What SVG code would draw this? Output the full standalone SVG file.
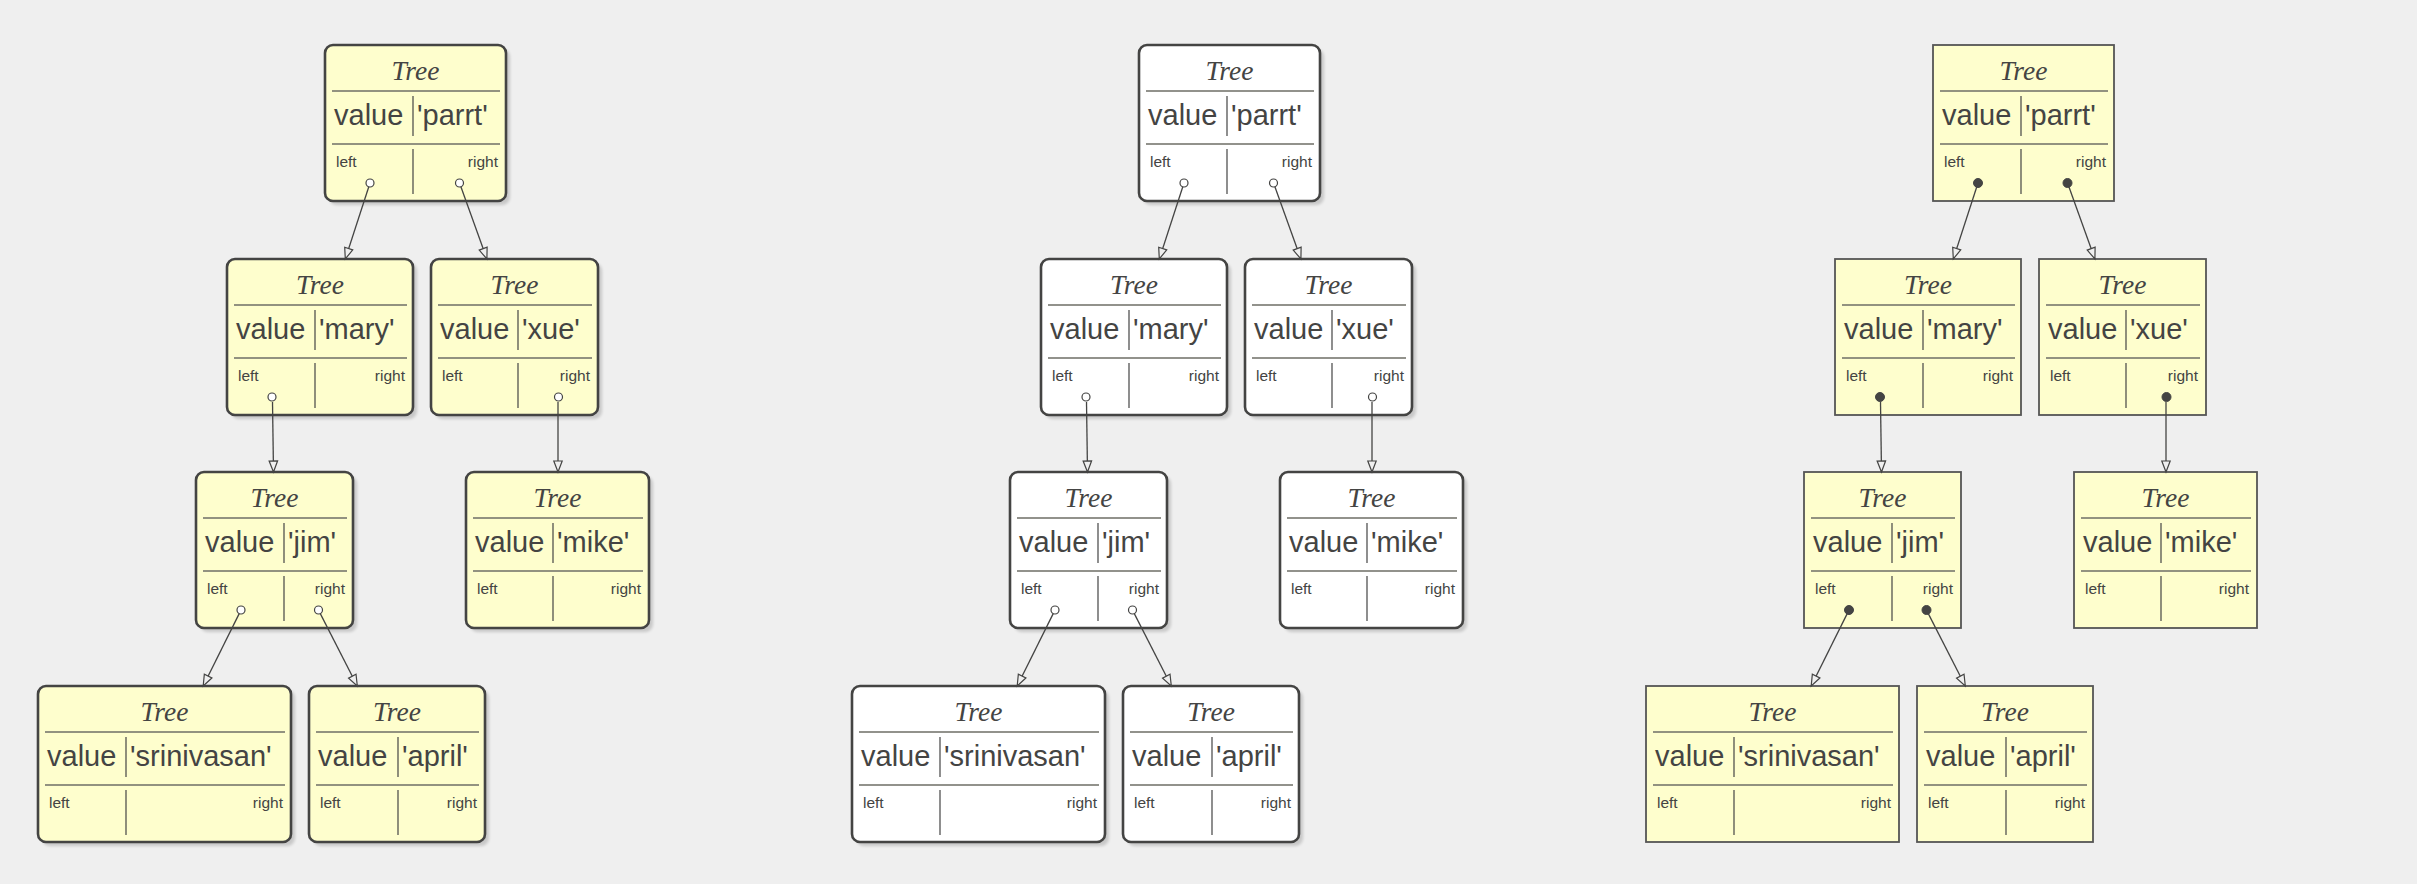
<svg xmlns="http://www.w3.org/2000/svg" width="2417" height="884" viewBox="0 0 2417 884">
<defs>
<style>
.bg{fill:#efefef}
.box{stroke:#444443;stroke-width:2.6}
.y .box{fill:#fefecd}
.w .box{fill:#ffffff}
.flat .box{stroke:#555555;stroke-width:1.8}
.shadow{fill:#000;opacity:0.16;filter:url(#blur)}
.hl{stroke:#6e6e66;stroke-width:1.6}
.vl{stroke:#444443;stroke-width:1.2}
text{fill:#444443}
.title{font-family:"Liberation Serif",serif;font-style:italic;font-size:27.5px;text-anchor:middle}
.val{font-family:"Liberation Sans",Arial,sans-serif;font-size:29px}
.lbl{font-family:"Liberation Sans",Arial,sans-serif;font-size:15.5px}
.end{text-anchor:end}
.port{fill:#ffffff;stroke:#444443;stroke-width:1.2}
.dot{fill:#444443;stroke:#444443;stroke-width:1}
.edge{stroke:#444443;stroke-width:1.3;fill:none;marker-end:url(#arrow)}
</style>
<filter id="blur" x="-10%" y="-10%" width="120%" height="120%"><feGaussianBlur stdDeviation="1.6"/></filter>
<marker id="arrow" markerUnits="userSpaceOnUse" markerWidth="14" markerHeight="12" viewBox="-1 -6 14 12" refX="11" refY="0" orient="auto" overflow="visible">
<path d="M0,-4.2 L11,0 L0,4.2 Z" fill="#efefef" stroke="#444443" stroke-width="1.2"/>
</marker>
</defs>
<rect class="bg" x="0" y="0" width="2417" height="884"/>

<!-- ===== Tree 1 (yellow, rounded) ===== -->
<g id="t1-parrt" class="node y" transform="translate(325,45)">
<rect class="shadow" x="4" y="4" width="181" height="156" rx="8"/>
<rect class="box" x="0" y="0" width="181" height="156" rx="8"/>
<text class="title" x="90.5" y="35">Tree</text>
<line class="hl" x1="7" y1="46" x2="175" y2="46"/>
<text class="val" x="9" y="80">value</text>
<line class="vl" x1="88" y1="51" x2="88" y2="91"/>
<text class="val" x="92" y="80">'parrt'</text>
<line class="hl" x1="7" y1="99" x2="175" y2="99"/>
<line class="vl" x1="88" y1="104" x2="88" y2="149"/>
<text class="lbl" x="11" y="122">left</text>
<text class="lbl end" x="173" y="122">right</text>
<circle class="port" cx="45" cy="138" r="4"/>
<circle class="port" cx="134.5" cy="138" r="4"/>
</g>
<g id="t1-mary" class="node y" transform="translate(227,259)">
<rect class="shadow" x="4" y="4" width="186" height="156" rx="8"/>
<rect class="box" x="0" y="0" width="186" height="156" rx="8"/>
<text class="title" x="93" y="35">Tree</text>
<line class="hl" x1="7" y1="46" x2="180" y2="46"/>
<text class="val" x="9" y="80">value</text>
<line class="vl" x1="88" y1="51" x2="88" y2="91"/>
<text class="val" x="92" y="80">'mary'</text>
<line class="hl" x1="7" y1="99" x2="180" y2="99"/>
<line class="vl" x1="88" y1="104" x2="88" y2="149"/>
<text class="lbl" x="11" y="122">left</text>
<text class="lbl end" x="178" y="122">right</text>
<circle class="port" cx="45" cy="138" r="4"/>
</g>
<g id="t1-xue" class="node y" transform="translate(431,259)">
<rect class="shadow" x="4" y="4" width="167" height="156" rx="8"/>
<rect class="box" x="0" y="0" width="167" height="156" rx="8"/>
<text class="title" x="83.5" y="35">Tree</text>
<line class="hl" x1="7" y1="46" x2="161" y2="46"/>
<text class="val" x="9" y="80">value</text>
<line class="vl" x1="87" y1="51" x2="87" y2="91"/>
<text class="val" x="91" y="80">'xue'</text>
<line class="hl" x1="7" y1="99" x2="161" y2="99"/>
<line class="vl" x1="87" y1="104" x2="87" y2="149"/>
<text class="lbl" x="11" y="122">left</text>
<text class="lbl end" x="159" y="122">right</text>
<circle class="port" cx="127.5" cy="138" r="4"/>
</g>
<g id="t1-jim" class="node y" transform="translate(196,472)">
<rect class="shadow" x="4" y="4" width="157" height="156" rx="8"/>
<rect class="box" x="0" y="0" width="157" height="156" rx="8"/>
<text class="title" x="78.5" y="35">Tree</text>
<line class="hl" x1="7" y1="46" x2="151" y2="46"/>
<text class="val" x="9" y="80">value</text>
<line class="vl" x1="88" y1="51" x2="88" y2="91"/>
<text class="val" x="92" y="80">'jim'</text>
<line class="hl" x1="7" y1="99" x2="151" y2="99"/>
<line class="vl" x1="88" y1="104" x2="88" y2="149"/>
<text class="lbl" x="11" y="122">left</text>
<text class="lbl end" x="149" y="122">right</text>
<circle class="port" cx="45" cy="138" r="4"/>
<circle class="port" cx="122.5" cy="138" r="4"/>
</g>
<g id="t1-mike" class="node y" transform="translate(466,472)">
<rect class="shadow" x="4" y="4" width="183" height="156" rx="8"/>
<rect class="box" x="0" y="0" width="183" height="156" rx="8"/>
<text class="title" x="91.5" y="35">Tree</text>
<line class="hl" x1="7" y1="46" x2="177" y2="46"/>
<text class="val" x="9" y="80">value</text>
<line class="vl" x1="87" y1="51" x2="87" y2="91"/>
<text class="val" x="91" y="80">'mike'</text>
<line class="hl" x1="7" y1="99" x2="177" y2="99"/>
<line class="vl" x1="87" y1="104" x2="87" y2="149"/>
<text class="lbl" x="11" y="122">left</text>
<text class="lbl end" x="175" y="122">right</text>
</g>
<g id="t1-srinivasan" class="node y" transform="translate(38,686)">
<rect class="shadow" x="4" y="4" width="253" height="156" rx="8"/>
<rect class="box" x="0" y="0" width="253" height="156" rx="8"/>
<text class="title" x="126.5" y="35">Tree</text>
<line class="hl" x1="7" y1="46" x2="247" y2="46"/>
<text class="val" x="9" y="80">value</text>
<line class="vl" x1="88" y1="51" x2="88" y2="91"/>
<text class="val" x="92" y="80">'srinivasan'</text>
<line class="hl" x1="7" y1="99" x2="247" y2="99"/>
<line class="vl" x1="88" y1="104" x2="88" y2="149"/>
<text class="lbl" x="11" y="122">left</text>
<text class="lbl end" x="245" y="122">right</text>
</g>
<g id="t1-april" class="node y" transform="translate(309,686)">
<rect class="shadow" x="4" y="4" width="176" height="156" rx="8"/>
<rect class="box" x="0" y="0" width="176" height="156" rx="8"/>
<text class="title" x="88" y="35">Tree</text>
<line class="hl" x1="7" y1="46" x2="170" y2="46"/>
<text class="val" x="9" y="80">value</text>
<line class="vl" x1="89" y1="51" x2="89" y2="91"/>
<text class="val" x="93" y="80">'april'</text>
<line class="hl" x1="7" y1="99" x2="170" y2="99"/>
<line class="vl" x1="89" y1="104" x2="89" y2="149"/>
<text class="lbl" x="11" y="122">left</text>
<text class="lbl end" x="168" y="122">right</text>
</g>

<!-- ===== Tree 2 (white, rounded) ===== -->
<g id="t2-parrt" class="node w" transform="translate(1139,45)">
<rect class="shadow" x="4" y="4" width="181" height="156" rx="8"/>
<rect class="box" x="0" y="0" width="181" height="156" rx="8"/>
<text class="title" x="90.5" y="35">Tree</text>
<line class="hl" x1="7" y1="46" x2="175" y2="46"/>
<text class="val" x="9" y="80">value</text>
<line class="vl" x1="88" y1="51" x2="88" y2="91"/>
<text class="val" x="92" y="80">'parrt'</text>
<line class="hl" x1="7" y1="99" x2="175" y2="99"/>
<line class="vl" x1="88" y1="104" x2="88" y2="149"/>
<text class="lbl" x="11" y="122">left</text>
<text class="lbl end" x="173" y="122">right</text>
<circle class="port" cx="45" cy="138" r="4"/>
<circle class="port" cx="134.5" cy="138" r="4"/>
</g>
<g id="t2-mary" class="node w" transform="translate(1041,259)">
<rect class="shadow" x="4" y="4" width="186" height="156" rx="8"/>
<rect class="box" x="0" y="0" width="186" height="156" rx="8"/>
<text class="title" x="93" y="35">Tree</text>
<line class="hl" x1="7" y1="46" x2="180" y2="46"/>
<text class="val" x="9" y="80">value</text>
<line class="vl" x1="88" y1="51" x2="88" y2="91"/>
<text class="val" x="92" y="80">'mary'</text>
<line class="hl" x1="7" y1="99" x2="180" y2="99"/>
<line class="vl" x1="88" y1="104" x2="88" y2="149"/>
<text class="lbl" x="11" y="122">left</text>
<text class="lbl end" x="178" y="122">right</text>
<circle class="port" cx="45" cy="138" r="4"/>
</g>
<g id="t2-xue" class="node w" transform="translate(1245,259)">
<rect class="shadow" x="4" y="4" width="167" height="156" rx="8"/>
<rect class="box" x="0" y="0" width="167" height="156" rx="8"/>
<text class="title" x="83.5" y="35">Tree</text>
<line class="hl" x1="7" y1="46" x2="161" y2="46"/>
<text class="val" x="9" y="80">value</text>
<line class="vl" x1="87" y1="51" x2="87" y2="91"/>
<text class="val" x="91" y="80">'xue'</text>
<line class="hl" x1="7" y1="99" x2="161" y2="99"/>
<line class="vl" x1="87" y1="104" x2="87" y2="149"/>
<text class="lbl" x="11" y="122">left</text>
<text class="lbl end" x="159" y="122">right</text>
<circle class="port" cx="127.5" cy="138" r="4"/>
</g>
<g id="t2-jim" class="node w" transform="translate(1010,472)">
<rect class="shadow" x="4" y="4" width="157" height="156" rx="8"/>
<rect class="box" x="0" y="0" width="157" height="156" rx="8"/>
<text class="title" x="78.5" y="35">Tree</text>
<line class="hl" x1="7" y1="46" x2="151" y2="46"/>
<text class="val" x="9" y="80">value</text>
<line class="vl" x1="88" y1="51" x2="88" y2="91"/>
<text class="val" x="92" y="80">'jim'</text>
<line class="hl" x1="7" y1="99" x2="151" y2="99"/>
<line class="vl" x1="88" y1="104" x2="88" y2="149"/>
<text class="lbl" x="11" y="122">left</text>
<text class="lbl end" x="149" y="122">right</text>
<circle class="port" cx="45" cy="138" r="4"/>
<circle class="port" cx="122.5" cy="138" r="4"/>
</g>
<g id="t2-mike" class="node w" transform="translate(1280,472)">
<rect class="shadow" x="4" y="4" width="183" height="156" rx="8"/>
<rect class="box" x="0" y="0" width="183" height="156" rx="8"/>
<text class="title" x="91.5" y="35">Tree</text>
<line class="hl" x1="7" y1="46" x2="177" y2="46"/>
<text class="val" x="9" y="80">value</text>
<line class="vl" x1="87" y1="51" x2="87" y2="91"/>
<text class="val" x="91" y="80">'mike'</text>
<line class="hl" x1="7" y1="99" x2="177" y2="99"/>
<line class="vl" x1="87" y1="104" x2="87" y2="149"/>
<text class="lbl" x="11" y="122">left</text>
<text class="lbl end" x="175" y="122">right</text>
</g>
<g id="t2-srinivasan" class="node w" transform="translate(852,686)">
<rect class="shadow" x="4" y="4" width="253" height="156" rx="8"/>
<rect class="box" x="0" y="0" width="253" height="156" rx="8"/>
<text class="title" x="126.5" y="35">Tree</text>
<line class="hl" x1="7" y1="46" x2="247" y2="46"/>
<text class="val" x="9" y="80">value</text>
<line class="vl" x1="88" y1="51" x2="88" y2="91"/>
<text class="val" x="92" y="80">'srinivasan'</text>
<line class="hl" x1="7" y1="99" x2="247" y2="99"/>
<line class="vl" x1="88" y1="104" x2="88" y2="149"/>
<text class="lbl" x="11" y="122">left</text>
<text class="lbl end" x="245" y="122">right</text>
</g>
<g id="t2-april" class="node w" transform="translate(1123,686)">
<rect class="shadow" x="4" y="4" width="176" height="156" rx="8"/>
<rect class="box" x="0" y="0" width="176" height="156" rx="8"/>
<text class="title" x="88" y="35">Tree</text>
<line class="hl" x1="7" y1="46" x2="170" y2="46"/>
<text class="val" x="9" y="80">value</text>
<line class="vl" x1="89" y1="51" x2="89" y2="91"/>
<text class="val" x="93" y="80">'april'</text>
<line class="hl" x1="7" y1="99" x2="170" y2="99"/>
<line class="vl" x1="89" y1="104" x2="89" y2="149"/>
<text class="lbl" x="11" y="122">left</text>
<text class="lbl end" x="168" y="122">right</text>
</g>

<!-- ===== Tree 3 (yellow, square, filled dots) ===== -->
<g id="t3-parrt" class="node y flat" transform="translate(1933,45)">
<rect class="box" x="0" y="0" width="181" height="156"/>
<text class="title" x="90.5" y="35">Tree</text>
<line class="hl" x1="7" y1="46" x2="175" y2="46"/>
<text class="val" x="9" y="80">value</text>
<line class="vl" x1="88" y1="51" x2="88" y2="91"/>
<text class="val" x="92" y="80">'parrt'</text>
<line class="hl" x1="7" y1="99" x2="175" y2="99"/>
<line class="vl" x1="88" y1="104" x2="88" y2="149"/>
<text class="lbl" x="11" y="122">left</text>
<text class="lbl end" x="173" y="122">right</text>
<circle class="dot" cx="45" cy="138" r="4.5"/>
<circle class="dot" cx="134.5" cy="138" r="4.5"/>
</g>
<g id="t3-mary" class="node y flat" transform="translate(1835,259)">
<rect class="box" x="0" y="0" width="186" height="156"/>
<text class="title" x="93" y="35">Tree</text>
<line class="hl" x1="7" y1="46" x2="180" y2="46"/>
<text class="val" x="9" y="80">value</text>
<line class="vl" x1="88" y1="51" x2="88" y2="91"/>
<text class="val" x="92" y="80">'mary'</text>
<line class="hl" x1="7" y1="99" x2="180" y2="99"/>
<line class="vl" x1="88" y1="104" x2="88" y2="149"/>
<text class="lbl" x="11" y="122">left</text>
<text class="lbl end" x="178" y="122">right</text>
<circle class="dot" cx="45" cy="138" r="4.5"/>
</g>
<g id="t3-xue" class="node y flat" transform="translate(2039,259)">
<rect class="box" x="0" y="0" width="167" height="156"/>
<text class="title" x="83.5" y="35">Tree</text>
<line class="hl" x1="7" y1="46" x2="161" y2="46"/>
<text class="val" x="9" y="80">value</text>
<line class="vl" x1="87" y1="51" x2="87" y2="91"/>
<text class="val" x="91" y="80">'xue'</text>
<line class="hl" x1="7" y1="99" x2="161" y2="99"/>
<line class="vl" x1="87" y1="104" x2="87" y2="149"/>
<text class="lbl" x="11" y="122">left</text>
<text class="lbl end" x="159" y="122">right</text>
<circle class="dot" cx="127.5" cy="138" r="4.5"/>
</g>
<g id="t3-jim" class="node y flat" transform="translate(1804,472)">
<rect class="box" x="0" y="0" width="157" height="156"/>
<text class="title" x="78.5" y="35">Tree</text>
<line class="hl" x1="7" y1="46" x2="151" y2="46"/>
<text class="val" x="9" y="80">value</text>
<line class="vl" x1="88" y1="51" x2="88" y2="91"/>
<text class="val" x="92" y="80">'jim'</text>
<line class="hl" x1="7" y1="99" x2="151" y2="99"/>
<line class="vl" x1="88" y1="104" x2="88" y2="149"/>
<text class="lbl" x="11" y="122">left</text>
<text class="lbl end" x="149" y="122">right</text>
<circle class="dot" cx="45" cy="138" r="4.5"/>
<circle class="dot" cx="122.5" cy="138" r="4.5"/>
</g>
<g id="t3-mike" class="node y flat" transform="translate(2074,472)">
<rect class="box" x="0" y="0" width="183" height="156"/>
<text class="title" x="91.5" y="35">Tree</text>
<line class="hl" x1="7" y1="46" x2="177" y2="46"/>
<text class="val" x="9" y="80">value</text>
<line class="vl" x1="87" y1="51" x2="87" y2="91"/>
<text class="val" x="91" y="80">'mike'</text>
<line class="hl" x1="7" y1="99" x2="177" y2="99"/>
<line class="vl" x1="87" y1="104" x2="87" y2="149"/>
<text class="lbl" x="11" y="122">left</text>
<text class="lbl end" x="175" y="122">right</text>
</g>
<g id="t3-srinivasan" class="node y flat" transform="translate(1646,686)">
<rect class="box" x="0" y="0" width="253" height="156"/>
<text class="title" x="126.5" y="35">Tree</text>
<line class="hl" x1="7" y1="46" x2="247" y2="46"/>
<text class="val" x="9" y="80">value</text>
<line class="vl" x1="88" y1="51" x2="88" y2="91"/>
<text class="val" x="92" y="80">'srinivasan'</text>
<line class="hl" x1="7" y1="99" x2="247" y2="99"/>
<line class="vl" x1="88" y1="104" x2="88" y2="149"/>
<text class="lbl" x="11" y="122">left</text>
<text class="lbl end" x="245" y="122">right</text>
</g>
<g id="t3-april" class="node y flat" transform="translate(1917,686)">
<rect class="box" x="0" y="0" width="176" height="156"/>
<text class="title" x="88" y="35">Tree</text>
<line class="hl" x1="7" y1="46" x2="170" y2="46"/>
<text class="val" x="9" y="80">value</text>
<line class="vl" x1="89" y1="51" x2="89" y2="91"/>
<text class="val" x="93" y="80">'april'</text>
<line class="hl" x1="7" y1="99" x2="170" y2="99"/>
<line class="vl" x1="89" y1="104" x2="89" y2="149"/>
<text class="lbl" x="11" y="122">left</text>
<text class="lbl end" x="168" y="122">right</text>
</g>

<!-- ===== Connectors ===== -->
<g id="connectors">
<g id="t1-edges">
<line class="edge" x1="368.8" y1="186.8" x2="345.3" y2="259"/>
<line class="edge" x1="460.9" y1="186.8" x2="486.9" y2="259"/>
<line class="edge" x1="272.5" y1="402" x2="273.5" y2="472"/>
<line class="edge" x1="558" y1="402" x2="558" y2="472"/>
<line class="edge" x1="239.2" y1="613.6" x2="203.2" y2="686"/>
<line class="edge" x1="320.3" y1="613.6" x2="357.3" y2="686"/>
</g>
<g id="t2-edges">
<line class="edge" x1="1182.8" y1="186.8" x2="1159.3" y2="259"/>
<line class="edge" x1="1274.9" y1="186.8" x2="1300.9" y2="259"/>
<line class="edge" x1="1086.5" y1="402" x2="1087.5" y2="472"/>
<line class="edge" x1="1372" y1="402" x2="1372" y2="472"/>
<line class="edge" x1="1053.2" y1="613.6" x2="1017.2" y2="686"/>
<line class="edge" x1="1134.3" y1="613.6" x2="1171.3" y2="686"/>
</g>
<g id="t3-edges">
<line class="edge" x1="1976.8" y1="186.8" x2="1953.3" y2="259"/>
<line class="edge" x1="2068.9" y1="186.8" x2="2094.9" y2="259"/>
<line class="edge" x1="1880.5" y1="402" x2="1881.5" y2="472"/>
<line class="edge" x1="2166" y1="402" x2="2166" y2="472"/>
<line class="edge" x1="1847.2" y1="613.6" x2="1811.2" y2="686"/>
<line class="edge" x1="1928.3" y1="613.6" x2="1965.3" y2="686"/>
</g>
</g>
</svg>
